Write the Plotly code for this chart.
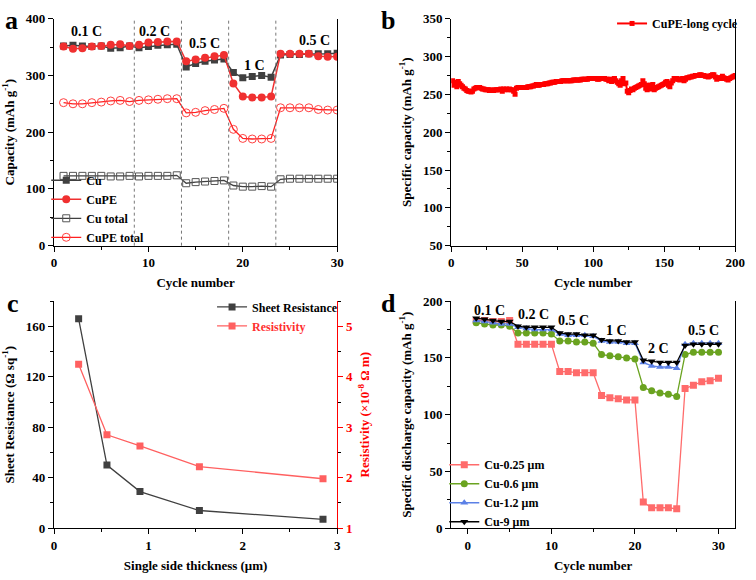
import plotly.graph_objects as go

# ---------------- data ----------------
cyc_a = list(range(1, 31))
cu = [352, 353, 352, 351, 352, 348, 349, 352, 349, 351, 353, 354, 355,
      315, 321, 325, 327, 329, 305, 296, 298, 300, 297,
      336, 337, 337, 338, 338, 338, 339]
cupe = [351, 347, 348, 351, 352, 354, 355, 352, 354, 358, 359, 360, 360,
        325, 328, 331, 334, 336, 286, 263, 261, 261, 263,
        338, 338, 338, 338, 334, 333, 333]
cu_total = [123, 123, 123, 123, 123, 122, 122, 123, 122, 123, 123, 123, 124,
            110, 112, 113, 114, 115, 106, 104, 104, 105, 104,
            117, 118, 118, 118, 118, 118, 118]
cupe_total = [252, 250, 250, 252, 253, 255, 256, 254, 256, 257, 258, 259, 259,
              234, 235, 238, 240, 242, 205, 189, 188, 188, 189,
              243, 243, 243, 243, 240, 239, 239]
rate_lines_a = [8.5, 13.5, 18.5, 23.5]
rate_labels_a = ["0.1 C", "0.2 C", "0.5 C", "1 C", "0.5 C"]
rate_label_x_a = [3.4, 10.6, 15.9, 21.2, 27.6]
rate_label_y_a = [378, 378, 356, 318, 361]

cyc_b = list(range(1, 201))
long_cycle = [
    268, 262, 266, 260, 267, 264, 262, 260, 258, 257,
    255, 254, 254, 253, 254, 257, 258, 259, 259, 259,
    258, 257, 257, 256, 256, 256, 255, 256, 255, 255,
    256, 256, 256, 256, 257, 254, 257, 256, 257, 256,
    257, 256, 256, 254, 250, 258, 259, 259, 259, 259,
    259, 259, 259, 260, 260, 260, 261, 261, 262, 263,
    262, 262, 263, 263, 263, 264, 264, 264, 265, 265,
    266, 266, 266, 267, 267, 267, 267, 268, 268, 268,
    268, 268, 268, 268, 268, 269, 269, 269, 269, 269,
    269, 270, 270, 270, 270, 270, 271, 271, 271, 271,
    271, 271, 270, 270, 271, 271, 271, 271, 270, 270,
    268, 270, 267, 270, 271, 268, 266, 264, 262, 268,
    271, 264, 265, 254, 252, 255, 257, 256, 258, 259,
    260, 261, 262, 263, 268, 264, 258, 256, 262, 262,
    257, 263, 256, 258, 259, 260, 261, 262, 263, 264,
    266, 267, 262, 260, 265, 268, 271, 270, 271, 270,
    269, 270, 271, 268, 270, 272, 272, 273, 273, 274,
    274, 275, 275, 275, 276, 276, 275, 275, 274, 274,
    273, 274, 275, 276, 276, 273, 270, 272, 272, 271,
    274, 272, 271, 270, 269, 271, 272, 273, 274, 275]

thickness = [0.26, 0.56, 0.91, 1.54, 2.85]
sheet_res = [166, 50, 29, 14, 7]
resistivity = [4.25, 2.85, 2.63, 2.22, 1.98]

cyc_d = list(range(1, 31))
cu_025 = [183, 183, 182, 182, 183, 162, 162, 162, 162, 162,
          138, 138, 137, 137, 137, 117, 115, 114, 113, 113,
          23, 18, 18, 18, 17, 123, 126, 129, 130, 132]
cu_06 = [181, 180, 179, 179, 178, 172, 172, 172, 172, 171,
         165, 165, 164, 164, 163, 153, 152, 151, 150, 149,
         124, 121, 119, 118, 116, 153, 155, 155, 155, 155]
cu_12 = [183, 182, 181, 180, 180, 177, 176, 175, 175, 175,
         171, 170, 170, 170, 169, 165, 164, 164, 163, 163,
         146, 143, 142, 142, 141, 162, 163, 163, 163, 163]
cu_9 = [185, 184, 183, 182, 182, 178, 177, 177, 177, 177,
        172, 171, 171, 170, 170, 166, 165, 165, 164, 164,
        148, 147, 146, 146, 146, 161, 162, 162, 162, 162]
rate_labels_d = ["0.1 C", "0.2 C", "0.5 C", "1 C", "2 C", "0.5 C"]
rate_label_x_d = [2.6, 7.8, 12.6, 17.8, 22.8, 28.2]
rate_label_y_d = [192, 188, 183, 174, 158, 174]

# ---------------- style ----------------
FONT = "Liberation Serif"
W, H = 756, 580
tf = dict(family=FONT, size=13, color="black", weight="bold")
titf = dict(family=FONT, size=13, color="black", weight="bold")

def px_x(p):
    return p / W

def px_y(p):
    return 1 - p / H

dom_ax = [px_x(52), px_x(340)]
dom_bx = [px_x(456), px_x(745)]
dom_top = [px_y(245), px_y(12)]
dom_bot = [px_y(535), px_y(302)]

def axis(dom, anchor, rng, dtick, minor, title, mirror=False, **kw):
    d = dict(domain=dom, anchor=anchor, range=rng, dtick=dtick,
             showline=True, linecolor="black", linewidth=1.3,
             ticks="outside", ticklen=5, tickwidth=1.2, tickcolor="black",
             minor=dict(dtick=minor, ticks="outside", ticklen=3, tickcolor="black", tickwidth=1),
             showgrid=False, zeroline=False, tickfont=tf,
             title=dict(text=title, font=titf, standoff=8), mirror=mirror)
    d.update(kw)
    return d

fig = go.Figure()

# ---- panel a ----
gray = "#404040"
red_a = "#F03030"
fig.add_trace(go.Scatter(x=cyc_a, y=cu, name="Cu", mode="lines+markers",
                         line=dict(color=gray, width=1.5),
                         marker=dict(symbol="square", size=7, color=gray),
                         xaxis="x", yaxis="y", legend="legend"))
fig.add_trace(go.Scatter(x=cyc_a, y=cupe, name="CuPE", mode="lines+markers",
                         line=dict(color=red_a, width=1.5),
                         marker=dict(symbol="circle", size=8, color=red_a),
                         xaxis="x", yaxis="y", legend="legend"))
fig.add_trace(go.Scatter(x=cyc_a, y=cu_total, name="Cu total", mode="lines+markers",
                         line=dict(color=gray, width=1.3),
                         marker=dict(symbol="square-open", size=7, color="#555555", line=dict(width=1)),
                         xaxis="x", yaxis="y", legend="legend"))
fig.add_trace(go.Scatter(x=cyc_a, y=cupe_total, name="CuPE total", mode="lines+markers",
                         line=dict(color="#FF2020", width=1.3),
                         marker=dict(symbol="circle-open", size=8, color="#FF4040", line=dict(width=1)),
                         xaxis="x", yaxis="y", legend="legend"))

# ---- panel b ----
fig.add_trace(go.Scatter(x=cyc_b, y=long_cycle, name="CuPE-long cycle", mode="lines+markers",
                         line=dict(color="#FF0000", width=2),
                         marker=dict(symbol="square", size=5, color="#FF0000"),
                         xaxis="x2", yaxis="y2", legend="legend2"))

# ---- panel c ----
fig.add_trace(go.Scatter(x=thickness, y=sheet_res, name="Sheet Resistance", mode="lines+markers",
                         line=dict(color=gray, width=1.3),
                         marker=dict(symbol="square", size=7, color=gray),
                         xaxis="x3", yaxis="y3", legend="legend3"))
fig.add_trace(go.Scatter(x=thickness, y=resistivity,
                         name='<span style="color:#FF3030">Resistivity</span>', mode="lines+markers",
                         line=dict(color="#FF6060", width=1.3),
                         marker=dict(symbol="square", size=7, color="#FF6060"),
                         xaxis="x3", yaxis="y5", legend="legend3"))

# ---- panel d ----
series_d = [("Cu-0.25 μm", cu_025, "#FF6B6B", "square"),
            ("Cu-0.6 μm", cu_06, "#6AA320", "circle"),
            ("Cu-1.2 μm", cu_12, "#5B80E6", "triangle-up"),
            ("Cu-9 μm", cu_9, "#000000", "triangle-down")]
for name, vals, col, sym in series_d:
    fig.add_trace(go.Scatter(x=cyc_d, y=vals, name=name, mode="lines+markers",
                             line=dict(color=col, width=1.3),
                             marker=dict(symbol=sym, size=7, color=col),
                             xaxis="x4", yaxis="y4", legend="legend4"))

# ---- shapes & annotations ----
shapes = []
for xv in rate_lines_a:
    shapes.append(dict(type="line", xref="x", yref="y domain", x0=xv, x1=xv, y0=0, y1=1,
                       line=dict(color="#777777", width=1, dash="dot")))

ann = []
for t, xv, yv in zip(rate_labels_a, rate_label_x_a, rate_label_y_a):
    ann.append(dict(text=t, x=xv, y=yv, xref="x", yref="y", showarrow=False,
                    font=dict(family=FONT, size=14, color="black", weight="bold")))
for t, xv, yv in zip(rate_labels_d, rate_label_x_d, rate_label_y_d):
    ann.append(dict(text=t, x=xv, y=yv, xref="x4", yref="y4", showarrow=False,
                    font=dict(family=FONT, size=14, color="black", weight="bold")))
for t, xp, yp in [("a", 9, 14), ("b", 392, 14), ("c", 10, 304), ("d", 392, 304)]:
    ann.append(dict(text=t, x=px_x(xp), y=px_y(yp), xref="paper", yref="paper",
                    showarrow=False, xanchor="center", yanchor="middle",
                    font=dict(family=FONT, size=26, color="black", weight="bold")))

leg_font = dict(family=FONT, size=12, color="black", weight="bold")

fig.update_layout(
    width=W, height=H, margin=dict(l=0, r=0, t=0, b=0),
    paper_bgcolor="white", plot_bgcolor="white",
    font=dict(family=FONT, color="black"),
    xaxis=axis(dom_ax, "y", [0, 30], 10, 5, "Cycle number"),
    yaxis=axis(dom_top, "x", [0, 400], 100, 50, "Capacity (mAh g<sup>-1</sup>)", mirror=True),
    xaxis2=axis(dom_bx, "y2", [0, 200], 50, 25, "Cycle number"),
    yaxis2=axis(dom_top, "x2", [50, 350], 50, 25, "Specific capacity (mAh g<sup>-1</sup>)", mirror=True),
    xaxis3=axis(dom_ax, "y3", [0, 3], 1, 0.5, "Single side thickness (μm)"),
    yaxis3=axis(dom_bot, "x3", [0, 180], 40, 20, "Sheet Resistance (Ω sq<sup>-1</sup>)"),
    yaxis5=axis(dom_bot, "x3", [1, 5.5], 1, 0.5, "Resistivity (×10<sup>-8</sup> Ω m)",
                overlaying="y3", side="right", linecolor="#FF0000", tickcolor="#FF0000",
                tickfont=dict(family=FONT, size=13, color="#FF0000", weight="bold")),
    xaxis4=axis(dom_bx, "y4", [-2, 32], 10, 5, "Cycle number"),
    yaxis4=axis(dom_bot, "x4", [0, 200], 50, 25, "Specific discharge capacity (mAh g<sup>-1</sup>)", mirror=True),
    legend=dict(x=px_x(44), y=px_y(163), xanchor="left", yanchor="top", bgcolor="rgba(0,0,0,0)",
                font=leg_font, tracegroupgap=0, itemwidth=30),
    legend2=dict(x=px_x(753), y=px_y(2), xanchor="right", yanchor="top", bgcolor="rgba(0,0,0,0)",
                 font=leg_font, itemwidth=30),
    legend3=dict(x=px_x(346), y=px_y(293), xanchor="right", yanchor="top", bgcolor="rgba(0,0,0,0)",
                 font=leg_font, itemwidth=30),
    legend4=dict(x=px_x(449), y=px_y(455), xanchor="left", yanchor="top", bgcolor="rgba(0,0,0,0)",
                 font=leg_font, itemwidth=30),
    shapes=shapes, annotations=ann,
)
fig.layout.yaxis5.title.font = dict(family=FONT, size=13, color="#FF0000", weight="bold")

fig.write_html("out.html")
